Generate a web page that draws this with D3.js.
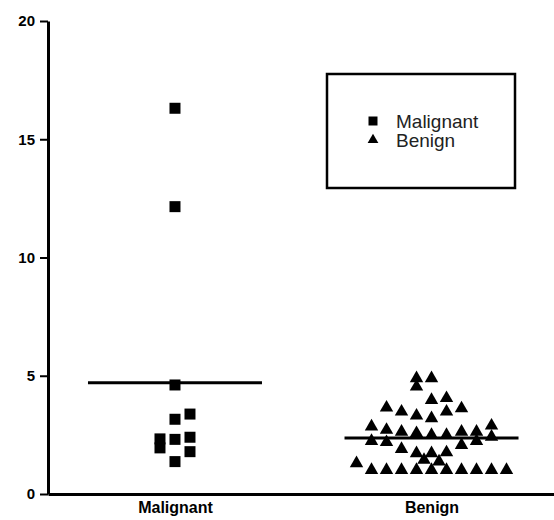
<!DOCTYPE html>
<html>
<head>
<meta charset="utf-8">
<script src="https://cdn.jsdelivr.net/npm/d3@7"></script>
<style>
  body { margin: 0; background: #fff; }
  svg { display: block; font-family: "Liberation Sans", Arial, sans-serif; }
</style>
</head>
<body>
<svg width="554" height="520"></svg>
<script>
// groups on the x axis
var categories = ["Malignant", "Benign"];

// values, with a column slot for the scatter spread
var malignantValues = [16.31, 12.15, 4.61, 3.38, 3.16, 2.33, 1.95, 2.31, 2.40, 1.79, 1.37];
var malignantSlots  = [0, 0, 0, 1, 0, -1, -1, 0, 1, 1, 0];

var benignValues = [4.89, 4.89, 4.54, 3.97, 4.05, 3.65, 3.48, 3.31, 3.20, 3.48, 3.62,
                    2.89, 2.85, 2.71, 2.63, 2.57, 2.49, 2.49, 2.63, 2.63, 2.42,
                    2.24, 2.19, 2.24, 2.07, 1.90, 1.72, 1.72, 1.76, 1.44, 1.37, 1.30,
                    1.01, 1.01, 1.01, 1.01, 1.01, 1.01, 1.01, 1.01, 1.01, 1.01];
var benignSlots  = [-1, 0, -1, 0, 1, -3, -2, -1, 0, 1, 2,
                    4, -4, -3, -2, -1, 0, 1, 2, 3, 4,
                    -4, -3, 3, 2, -2, -1, 0, 1, -0.5, 0.5, -5,
                    -4, -3, -2, -1, 0, 1, 2, 3, 4, 5];

var yTicks = [0, 5, 10, 15, 20];

var svg = d3.select("svg");
var margin = {left: 48, top: 21, bottom: 26};
var height = 520;

var x = d3.scalePoint().domain(categories).range([margin.left, 558.5]).padding(0.495);
var slot = d3.scaleLinear().domain([-1, 1]).range([-15, 15]);
var y = d3.scaleLinear().domain([0, 20]).range([height - margin.bottom, margin.top]);

var series = [
  {name: "Malignant", values: malignantValues, slots: malignantSlots, symbol: d3.symbolSquare, size: 121},
  {name: "Benign", values: benignValues, slots: benignSlots, symbol: d3.symbolTriangle, size: 78}
];

// y axis
var yAxis = svg.append("g")
  .attr("transform", "translate(" + margin.left + ",0)")
  .call(d3.axisLeft(y).tickValues(yTicks).tickSize(8).tickPadding(5).tickSizeOuter(0));
yAxis.select(".domain").attr("stroke", "#000").attr("stroke-width", 3);
yAxis.selectAll(".tick line").attr("stroke", "#000").attr("stroke-width", 2);
yAxis.selectAll(".tick text")
  .attr("fill", "#000").style("font-size", "15px").style("font-weight", "bold");

// x axis
var xAxis = svg.append("g")
  .attr("transform", "translate(0," + y(0) + ")")
  .call(d3.axisBottom(x).tickSize(0).tickPadding(8).tickSizeOuter(0));
xAxis.select(".domain").attr("stroke", "#000").attr("stroke-width", 3);
xAxis.selectAll(".tick text")
  .attr("fill", "#000").style("font-size", "16px").style("font-weight", "bold");

// points
series.forEach(function(s){
  svg.append("g").selectAll("path")
    .data(s.values)
    .join("path")
    .attr("d", d3.symbol().type(s.symbol).size(s.size))
    .attr("transform", function(d, i){
      return "translate(" + (x(s.name) + slot(s.slots[i])) + "," + y(d) + ")";
    })
    .attr("fill", "#000");
});

// mean lines
svg.append("g").selectAll("line")
  .data(series)
  .join("line")
  .attr("x1", function(s){ return x(s.name) - 87; })
  .attr("x2", function(s){ return x(s.name) + 87; })
  .attr("y1", function(s){ return y(d3.mean(s.values)); })
  .attr("y2", function(s){ return y(d3.mean(s.values)); })
  .attr("stroke", "#000")
  .attr("stroke-width", 3);

// legend
var legend = svg.append("g").attr("transform", "translate(327,74)");
legend.append("rect")
  .attr("width", 188).attr("height", 114)
  .attr("fill", "#fff").attr("stroke", "#000").attr("stroke-width", 2.5);
var item = legend.selectAll("g.item")
  .data(series)
  .join("g")
  .attr("class", "item")
  .attr("transform", function(d, i){ return "translate(0," + (47 + i * 19) + ")"; });
item.append("path")
  .attr("d", function(s){ return d3.symbol().type(s.symbol).size(s.symbol === d3.symbolSquare ? 81 : 50)(); })
  .attr("transform", "translate(46,0)")
  .attr("fill", "#000");
item.append("text")
  .attr("x", 69).attr("y", 7)
  .style("font-size", "19px")
  .attr("fill", "#222")
  .text(function(s){ return s.name; });
</script>
</body>
</html>
